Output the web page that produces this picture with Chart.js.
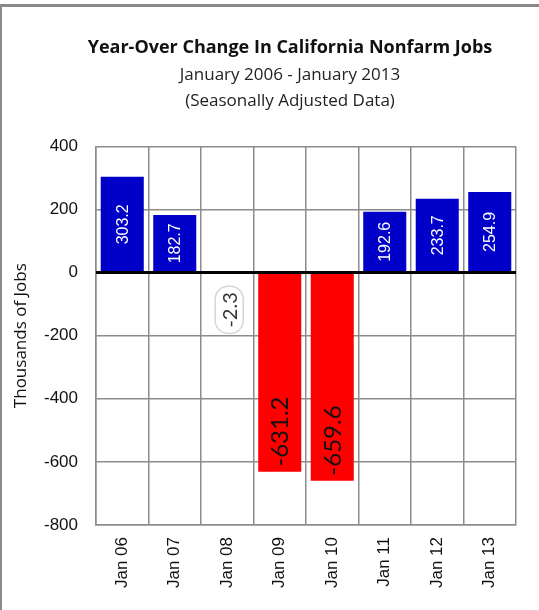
<!DOCTYPE html>
<html>
<head>
<meta charset="utf-8">
<title>Year-Over Change In California Nonfarm Jobs</title>
<script src="https://cdn.jsdelivr.net/npm/chart.js@4.4.1/dist/chart.umd.min.js"></script>
<style>
    html, body { margin: 0; padding: 0; background: #fff; overflow: hidden; }
    #frame { position: relative; width: 539px; height: 610px; overflow: hidden; background: #fff; }
    #frame .edgeTop { position: absolute; left: 0; top: 4px; width: 100%; height: 3px; background: #8a8a8a; }
    #frame .edgeLeft { position: absolute; left: 0; top: 4px; width: 2px; height: 100%; background: #8a8a8a; }
    canvas { position: absolute; left: 0; top: 0; }
</style>
</head>
<body>
<div id="frame">
    <canvas id="jobsChart" width="580" height="610"></canvas>
    <div class="edgeTop"></div>
    <div class="edgeLeft"></div>
</div>
<script>
// Chart data
const categories = ['Jan 06', 'Jan 07', 'Jan 08', 'Jan 09', 'Jan 10', 'Jan 11', 'Jan 12', 'Jan 13'];
const jobChange = [303.2, 182.7, -2.3, -631.2, -659.6, 192.6, 233.7, 254.9];
const yTicks = [400, 200, 0, -200, -400, -600, -800];
const titleText = 'Year-Over Change In California Nonfarm Jobs';
const subtitleLines = ['January 2006 - January 2013', '(Seasonally Adjusted Data)'];
const yAxisTitle = 'Thousands of Jobs';

const GRID = '#8c8c8c';
const TEXT_FONT = '"Open Sans", Lato, sans-serif';
const NUM_FONT = '"Liberation Sans", Arial, sans-serif';

// Draws the zero line and the rotated value labels
const barLabels = {
    id: 'barLabels',
    afterDatasetsDraw(chart) {
        const ctx = chart.ctx;
        const area = chart.chartArea;
        const zero = chart.scales.y.getPixelForValue(0);

        ctx.save();
        ctx.strokeStyle = '#000';
        ctx.lineWidth = 3;
        ctx.beginPath();
        ctx.moveTo(area.left, zero);
        ctx.lineTo(area.right, zero);
        ctx.stroke();
        ctx.restore();

        chart.getDatasetMeta(0).data.forEach(function(bar, i) {
            const v = jobChange[i];
            const text = v.toFixed(1);
            const len = Math.abs(bar.base - bar.y);
            ctx.save();
            ctx.textBaseline = 'middle';
            if (v >= 0) {
                ctx.translate(bar.x, (bar.y + bar.base) / 2);
                ctx.rotate(-Math.PI / 2);
                ctx.font = '16px ' + NUM_FONT;
                ctx.fillStyle = '#fff';
                ctx.textAlign = 'center';
                ctx.fillText(text, 0, 1);
            } else if (len > 80) {
                ctx.translate(bar.x, bar.y - 5);
                ctx.rotate(-Math.PI / 2);
                ctx.font = '24px Lato, "Open Sans", sans-serif';
                ctx.fillStyle = '#111';
                ctx.textAlign = 'left';
                ctx.fillText(text, 0, 1);
            } else {
                ctx.translate(bar.x + 2, bar.y + 19);
                ctx.rotate(-Math.PI / 2);
                ctx.font = '20px Lato, "Open Sans", sans-serif';
                const w = ctx.measureText(text).width;
                ctx.strokeStyle = '#d6d6d6';
                ctx.lineWidth = 1.5;
                ctx.beginPath();
                ctx.roundRect(-w - 6, -14, w + 12, 28, 13);
                ctx.stroke();
                ctx.fillStyle = '#333';
                ctx.textAlign = 'right';
                ctx.fillText(text, 0, 1);
            }
            ctx.restore();
        });
    }
};

const ctx = document.getElementById('jobsChart').getContext('2d');
const chart = new Chart(ctx, {
    type: 'bar',
    data: {
        labels: categories,
        datasets: [{
            data: jobChange,
            backgroundColor: jobChange.map(v => v >= 0 ? '#0000c8' : '#ff0000'),
            borderWidth: 0,
            barPercentage: 0.82,
            categoryPercentage: 1
        }]
    },
    options: {
        responsive: false,
        animation: false,
        layout: { padding: 0 },
        plugins: {
            legend: { display: false },
            tooltip: { enabled: false },
            title: {
                display: true,
                text: titleText,
                color: '#111',
                font: { family: TEXT_FONT, size: 18, weight: 'bold', lineHeight: 1.2 },
                padding: { top: 37, bottom: 3 }
            },
            subtitle: {
                display: true,
                text: subtitleLines,
                color: '#222',
                font: { family: TEXT_FONT, size: 17, lineHeight: 1.55 },
                padding: { top: 0, bottom: 32 }
            }
        },
        scales: {
            x: {
                grid: { color: GRID, lineWidth: 1.5, drawTicks: false, offset: true },
                border: { color: GRID, width: 1.5 },
                ticks: {
                    color: '#111',
                    font: { family: NUM_FONT, size: 17 },
                    minRotation: 90,
                    maxRotation: 90,
                    autoSkip: false,
                    padding: 12
                },
                afterFit(scale) { scale.height = 85; }
            },
            y: {
                min: -800,
                max: 400,
                afterBuildTicks(scale) { scale.ticks = yTicks.map(v => ({ value: v })); },
                grid: { color: GRID, lineWidth: 1.5, drawTicks: false },
                border: { color: GRID, width: 1.5 },
                ticks: {
                    color: '#111',
                    font: { family: NUM_FONT, size: 17 },
                    padding: 18
                },
                title: {
                    display: true,
                    text: yAxisTitle,
                    color: '#111',
                    font: { family: TEXT_FONT, size: 17, lineHeight: 1.2 },
                    padding: { top: 11, bottom: 0 }
                },
                afterFit(scale) { scale.width = 96; }
            },
            // empty spacer on the right so the titles centre like the original
            spacer: {
                type: 'linear',
                position: 'right',
                display: true,
                grid: { display: false, drawTicks: false },
                border: { display: false },
                ticks: { display: false },
                afterFit(scale) { scale.width = 64; }
            }
        }
    },
    plugins: [barLabels]
});
</script>
</body>
</html>
